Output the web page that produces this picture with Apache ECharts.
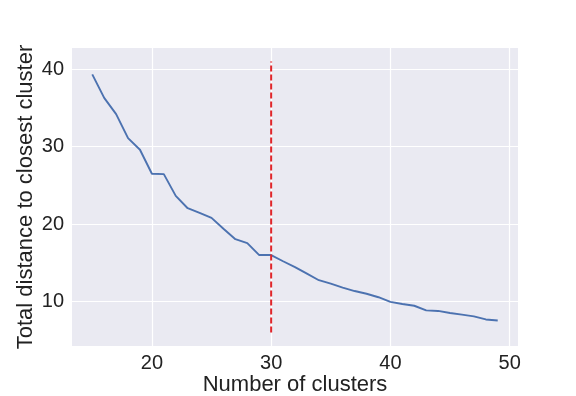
<!DOCTYPE html>
<html>
<head>
<meta charset="utf-8">
<script src="https://cdn.jsdelivr.net/npm/echarts@6/dist/echarts.min.js"></script>
<style>html,body{margin:0;padding:0;background:#fff}#c{width:576px;height:396px}</style>
</head>
<body>
<div id="c"></div>
<script>
const clusters = [15,16,17,18,19,20,21,22,23,24,25,26,27,28,29,30,31,32,33,34,35,36,37,38,39,40,41,42,43,44,45,46,47,48,49];
const distances = [39.35,36.3,34.2,31.1,29.6,26.5,26.45,23.65,22.05,21.45,20.8,19.4,18.05,17.55,16.0,16.0,15.2,14.45,13.6,12.75,12.3,11.8,11.35,11.0,10.55,9.95,9.68,9.45,8.85,8.78,8.52,8.3,8.08,7.68,7.55];
const xTicks = [20,30,40,50];
const yTicks = [10,20,30,40];
const xRange = [13.3, 50.7];
const yRange = [4.25, 42.75];
const cutX = 30;
const cutSpan = [6, 41];

const chart = echarts.init(document.getElementById('c'), null, {renderer:'canvas'});
const font = 'Liberation Sans, Arial, sans-serif';
const txt = '#222222';
chart.setOption({
  animation: false,
  grid: {left:72, right:58, top:48, bottom:50, show:true, backgroundColor:'#EAEAF2', borderWidth:0, containLabel:false, outerBoundsMode:'none'},
  xAxis: {
    type:'value', min:xRange[0], max:xRange[1],
    name:'Number of clusters', nameLocation:'middle', nameGap:28, nameMoveOverlap:false,
    nameTextStyle:{fontSize:22, color:txt, fontFamily:font, verticalAlign:'top'},
    axisLine:{show:false}, axisTick:{show:false}, splitLine:{show:false},
    axisLabel:{customValues:xTicks, fontSize:20, color:txt, fontFamily:font, margin:7}
  },
  yAxis: {
    type:'value', min:yRange[0], max:yRange[1],
    name:'Total distance to closest cluster', nameLocation:'middle', nameGap:35, nameMoveOverlap:false,
    nameTextStyle:{fontSize:22, color:txt, fontFamily:font},
    axisLine:{show:false}, axisTick:{show:false}, splitLine:{show:false},
    axisLabel:{customValues:yTicks, fontSize:20, color:txt, fontFamily:font, margin:8}
  },
  series: [
    {
      type:'line', data:[], z:1, silent:true,
      markLine:{
        z:1, silent:true, symbol:['none','none'], label:{show:false},
        lineStyle:{color:'#ffffff', width:1.2, type:'solid'},
        data: xTicks.map(v=>({xAxis:v})).concat(yTicks.map(v=>({yAxis:v})))
      }
    },
    {
      type:'line', z:3, symbol:'none', silent:true,
      data: clusters.map((x,i)=>[x, distances[i]]),
      lineStyle:{color:'#4C72B0', width:1.9}
    },
    {
      type:'line', z:4, symbol:'none', silent:true,
      data: cutSpan.map(v=>[cutX, v]),
      lineStyle:{color:'#E0262B', width:2, type:[6,3]}
    }
  ]
});
</script>
</body>
</html>
